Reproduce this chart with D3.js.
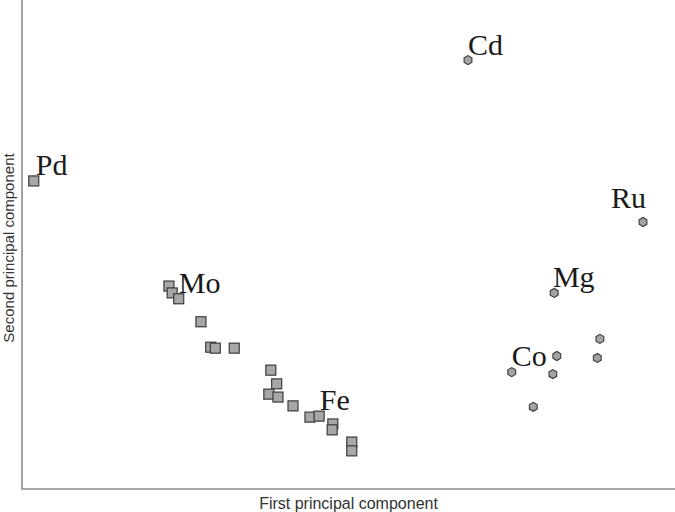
<!DOCTYPE html>
<meta charset="utf-8">
<style>

body {
  margin: 0;
  background: #fff;
}

.axis-line {
  stroke: #8c8c8c;
  stroke-width: 1.6px;
  fill: none;
}

.axis-label {
  font-family: "Liberation Sans", Arial, sans-serif;
  fill: #333;
}

.square {
  fill: #a7a7a7;
  stroke: #3a3a3a;
  stroke-width: 1.2px;
}

.hex {
  fill: #a3a3a3;
  stroke: #3a3a3a;
  stroke-width: 1.1px;
}

.elem {
  font: 30px "Liberation Serif", "Times New Roman", serif;
  fill: #1a1a1a;
}

</style>
<body>
<script src="https://d3js.org/d3.v7.min.js"></script>
<script>

// squares (first group) and hexagons (second group), arbitrary PC units
var squaresX = [0.18, 2.25, 2.30, 2.40, 2.74, 2.89, 2.96, 3.25, 3.81, 3.90, 3.78, 3.92, 4.15, 4.41, 4.55, 4.76, 4.75, 5.05, 5.05];
var squaresY = [6.30, 4.15, 4.01, 3.89, 3.42, 2.90, 2.88, 2.88, 2.43, 2.15, 1.94, 1.88, 1.70, 1.47, 1.49, 1.33, 1.21, 0.96, 0.78];

var hexX = [6.83, 9.51, 8.15, 8.85, 8.81, 8.19, 8.13, 7.50, 7.83];
var hexY = [8.77, 5.46, 4.01, 3.07, 2.68, 2.72, 2.35, 2.39, 1.68];

var labelNames = ["Pd", "Cd", "Ru", "Mg", "Mo", "Co", "Fe"];
var labelX = [0.21, 6.83, 9.02, 8.13, 2.40, 7.50, 4.56];
var labelY = [6.42, 8.88, 5.75, 4.13, 4.01, 2.52, 1.62];

var W = 675, H = 512,
    margin = {top: 0, right: 0, bottom: 23, left: 22},
    width = W - margin.left - margin.right,
    height = H - margin.top - margin.bottom;

var x = d3.scaleLinear().domain([0, 10]).range([0, width]);
var y = d3.scaleLinear().domain([0, 10]).range([height, 0]);

var svg = d3.select("body").append("svg")
    .attr("width", W)
    .attr("height", H)
  .append("g")
    .attr("transform", "translate(" + margin.left + "," + margin.top + ")");

svg.append("path")
    .attr("class", "axis-line")
    .attr("d", "M0,0V" + height + "H" + width);

svg.append("text")
    .attr("class", "axis-label")
    .style("font-size", "16px")
    .attr("x", width / 2)
    .attr("y", height + 20)
    .style("text-anchor", "middle")
    .text("First principal component");

svg.append("text")
    .attr("class", "axis-label")
    .style("font-size", "15px")
    .attr("transform", "rotate(-90)")
    .attr("x", -248)
    .attr("y", -8.5)
    .style("text-anchor", "middle")
    .text("Second principal component");

var squares = squaresX.map(function(v, i) { return {x: v, y: squaresY[i]}; });
var hexes = hexX.map(function(v, i) { return {x: v, y: hexY[i]}; });

var s = 10;
svg.selectAll(".square")
    .data(squares)
  .enter().append("rect")
    .attr("class", "square")
    .attr("x", function(d) { return x(d.x) - s / 2; })
    .attr("y", function(d) { return y(d.y) - s / 2; })
    .attr("width", s)
    .attr("height", s);

var r = 4.5;
var hexPath = d3.range(6).map(function(k) {
  var a = Math.PI / 3 * k + Math.PI / 6;
  return [r * Math.cos(a), r * Math.sin(a)];
});

svg.selectAll(".hex")
    .data(hexes)
  .enter().append("path")
    .attr("class", "hex")
    .attr("d", "M" + hexPath.join("L") + "Z")
    .attr("transform", function(d) { return "translate(" + x(d.x) + "," + y(d.y) + ")"; });

svg.selectAll(".elem")
    .data(labelNames)
  .enter().append("text")
    .attr("class", "elem")
    .attr("x", function(d, i) { return x(labelX[i]); })
    .attr("y", function(d, i) { return y(labelY[i]); })
    .text(function(d) { return d; });

</script>
